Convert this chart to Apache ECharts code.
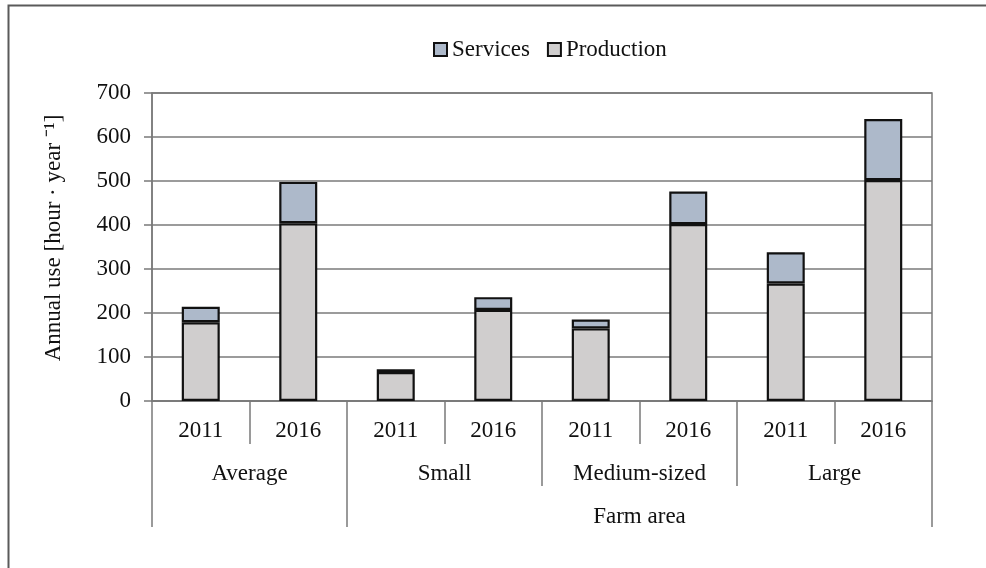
<!DOCTYPE html>
<html>
<head>
<meta charset="utf-8">
<script src="https://cdn.jsdelivr.net/npm/echarts@6/dist/echarts.min.js"></script>
<style>html,body{margin:0;padding:0;background:#fff}#c{width:986px;height:568px}</style>
</head>
<body>
<div id="c"></div>
<script>
// ---- data ----
const yearLabels = ['2011', '2016', '2011', '2016', '2011', '2016', '2011', '2016'];
const groupLabels = ['Average', 'Small', 'Medium-sized', 'Large'];
const outerLabel = 'Farm area';
const production = [179, 404, 66, 207, 165, 402, 267, 502];
const services = [35, 94, 6, 29, 20, 74, 71, 139];
const yTicks = [0, 100, 200, 300, 400, 500, 600, 700];
const yName = 'Annual use [hour · year ⁻¹]';

const FONT = "'Liberation Serif','Times New Roman',serif";
const TXT = '#111';
const GRID = '#7a7a7a';
const FS = 23;

const chart = echarts.init(document.getElementById('c'));
chart.setOption({
  animation: false,
  backgroundColor: '#fff',
  textStyle: { fontFamily: FONT, color: TXT },
  graphic: [{
    type: 'rect', left: 6, top: 3, shape: { width: 1100, height: 700 },
    style: { fill: 'none', stroke: '#5a5a5a', lineWidth: 2 }, silent: true
  }],
  legend: {
    data: ['Services', 'Production'],
    left: 433, top: 38, padding: 0,
    itemWidth: 13, itemHeight: 13, itemGap: 17,
    textStyle: { fontFamily: FONT, fontSize: FS, color: TXT },
    icon: 'rect'
  },
  grid: {
    left: 152, right: 54, top: 93, bottom: 167,
    show: true, borderColor: GRID, borderWidth: 1.5, backgroundColor: 'transparent'
  },
  xAxis: [
    {
      type: 'category', data: yearLabels, position: 'bottom',
      axisLine: { show: true, lineStyle: { color: GRID, width: 1.5 } },
      axisTick: { show: true, interval: 0, length: 43, lineStyle: { color: GRID, width: 1.5 } },
      axisLabel: { interval: 0, margin: 18, fontSize: FS, color: TXT, fontFamily: FONT },
      splitLine: { show: false }
    },
    {
      type: 'value', min: 0, max: 8, position: 'bottom', offset: 0,
      axisLine: { show: false },
      axisTick: { show: true, customValues: [0, 2, 4, 6, 8], length: 85, lineStyle: { color: GRID, width: 1.5 } },
      axisLabel: {
        customValues: [1, 3, 5, 7], margin: 61, fontSize: FS, color: TXT, fontFamily: FONT,
        formatter: v => groupLabels[Math.round((v - 1) / 2)]
      },
      splitLine: { show: false }
    },
    {
      type: 'value', min: 0, max: 8, position: 'bottom', offset: 0,
      axisLine: { show: false },
      axisTick: { show: true, customValues: [0, 2, 8], length: 126, lineStyle: { color: GRID, width: 1.5 } },
      axisLabel: {
        customValues: [5], margin: 104, fontSize: FS, color: TXT, fontFamily: FONT,
        formatter: () => outerLabel
      },
      splitLine: { show: false }
    }
  ],
  yAxis: {
    type: 'value', min: yTicks[0], max: yTicks[yTicks.length - 1], interval: 100,
    name: yName, nameLocation: 'middle', nameGap: 87, nameRotate: 90,
    nameTextStyle: { fontSize: FS, color: TXT, fontFamily: FONT, padding: [0, 0, 0, 18] },
    axisLine: { show: true, lineStyle: { color: GRID, width: 1.5 } },
    axisTick: { show: true, length: 8, lineStyle: { color: GRID, width: 1.5 } },
    axisLabel: { margin: 21, fontSize: FS, color: TXT, fontFamily: FONT },
    splitLine: { show: true, lineStyle: { color: GRID, width: 1.5 } }
  },
  series: [
    {
      name: 'Production', type: 'bar', stack: 'a', data: production, barWidth: 38,
      itemStyle: { color: '#d0cece', borderColor: '#111', borderWidth: 2.2 }
    },
    {
      name: 'Services', type: 'bar', stack: 'a', data: services, barWidth: 38,
      itemStyle: { color: '#adb9ca', borderColor: '#111', borderWidth: 2.2 }
    }
  ]
});
</script>
</body>
</html>
